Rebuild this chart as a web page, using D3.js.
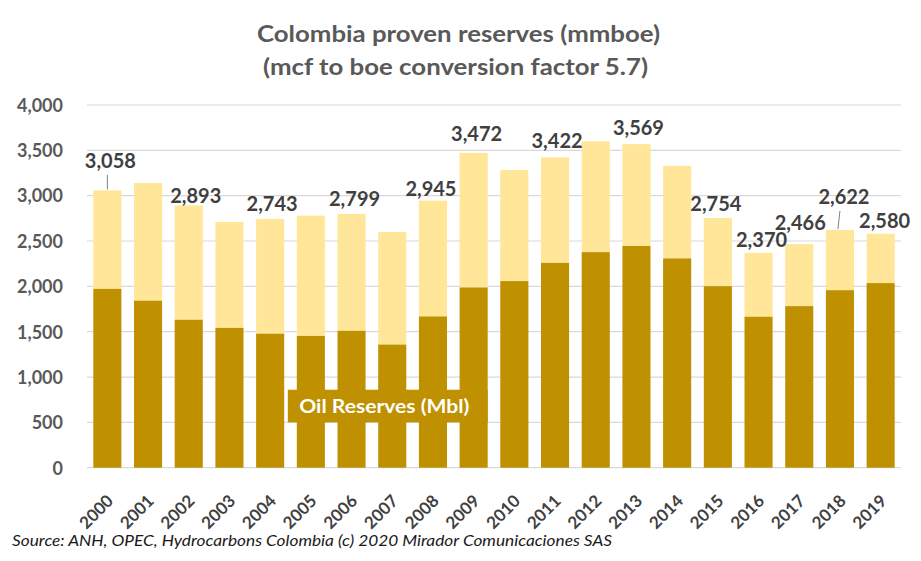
<!DOCTYPE html>
<html>
<head>
<meta charset="utf-8">
<script src="https://cdn.jsdelivr.net/npm/d3@7"></script>
<style>
  html, body { margin: 0; padding: 0; background: #ffffff; }
  svg { display: block; }
</style>
</head>
<body>
<svg id="chart" width="921" height="561"></svg>
<script>
// ---------- data ----------
const years = ["2000","2001","2002","2003","2004","2005","2006","2007","2008","2009",
               "2010","2011","2012","2013","2014","2015","2016","2017","2018","2019"];
const oilReserves = [1972,1842,1632,1542,1478,1453,1510,1358,1668,1988,
                     2058,2259,2377,2445,2308,2002,1665,1782,1958,2036];
const totalReserves = [3058,3140,2893,2710,2743,2780,2799,2600,2945,3472,
                       3283,3422,3600,3569,3330,2754,2370,2466,2622,2580];
const labeledYears = ["2000","2002","2004","2006","2008","2009","2011","2013",
                      "2015","2016","2017","2018","2019"];
const yTicks = [0,500,1000,1500,2000,2500,3000,3500,4000];
const titleLines = ["Colombia proven reserves (mmboe)", "(mcf to boe conversion factor 5.7)"];
const oilLabel = "Oil Reserves (Mbl)";
const sourceText = "Source:  ANH, OPEC, Hydrocarbons Colombia (c) 2020 Mirador Comunicaciones SAS";

// ---------- layout ----------
const svg = d3.select("#chart");
const m = { left: 87, right: 901, top: 105, bottom: 467.7 };
const cOil = "#BF9000", cGas = "#FFE699";
const font = "Lato, 'Open Sans', sans-serif";

// label offsets [dx, dy to label centre] relative to bar centre/top
const labelOffset = {
  "2000": [3, -29.5], "2002": [7, -10], "2004": [2, -15], "2006": [3, -15],
  "2008": [-2, -12], "2009": [3, -19], "2011": [2, -17], "2013": [2, -16],
  "2015": [-2, -14], "2016": [3, -13], "2017": [1, -21], "2018": [4, -33],
  "2019": [4, -13]
};

const x = d3.scaleBand().domain(years).range([m.left, m.right]).paddingInner(0.31).paddingOuter(0.155);
const y = d3.scaleLinear().domain([0, 4000]).range([m.bottom, m.top]);

// gridlines
svg.append("g").selectAll("line").data(yTicks).join("line")
  .attr("x1", m.left).attr("x2", m.right)
  .attr("y1", d => y(d)).attr("y2", d => y(d))
  .attr("stroke", "#D9D9D9").attr("stroke-width", 1.2);

// y axis labels
const yAxis = d3.axisLeft(y).tickValues(yTicks).tickFormat(d3.format(",")).tickSize(0).tickPadding(0);
const yg = svg.append("g").attr("transform", "translate(63,0)").call(yAxis);
yg.select(".domain").remove();
yg.selectAll("text").attr("font-family", font).attr("font-weight", "bold")
  .attr("font-size", 18).attr("fill", "#595959").attr("dy", "0.35em");

const rows = years.map((yr, i) => ({ year: yr, oil: oilReserves[i], total: totalReserves[i] }));

// gas (total) bars
svg.append("g").selectAll("rect").data(rows).join("rect")
  .attr("x", d => x(d.year)).attr("width", x.bandwidth())
  .attr("y", d => y(d.total)).attr("height", d => y(d.oil) - y(d.total))
  .attr("fill", cGas);
// oil bars
svg.append("g").selectAll("rect").data(rows).join("rect")
  .attr("x", d => x(d.year)).attr("width", x.bandwidth())
  .attr("y", d => y(d.oil)).attr("height", d => y(0) - y(d.oil))
  .attr("fill", cOil);

// oil label box
const boxG = svg.append("g");
const lx = x("2007") + x.bandwidth() / 2 - 8;
boxG.append("rect").attr("x", x("2005") - 9).attr("width", x("2009") + x.bandwidth() - x("2005") + 9)
  .attr("y", y(860)).attr("height", y(500) - y(860)).attr("fill", cOil);
boxG.append("text").attr("x", lx).attr("y", y(500) - 9)
  .attr("text-anchor", "middle").attr("font-family", font).attr("font-weight", "bold")
  .attr("font-size", 19).attr("fill", "#ffffff")
  .attr("textLength", 170).attr("lengthAdjust", "spacingAndGlyphs")
  .text(oilLabel);

// total labels
const labeled = rows.filter(d => labeledYears.includes(d.year));
const lg = svg.append("g");
lg.selectAll("text").data(labeled).join("text")
  .attr("x", d => x(d.year) + x.bandwidth() / 2 + labelOffset[d.year][0])
  .attr("y", d => y(d.total) + labelOffset[d.year][1])
  .attr("dy", "0.36em")
  .attr("text-anchor", "middle").attr("font-family", font).attr("font-weight", "bold")
  .attr("font-size", 20).attr("fill", "#404040")
  .text(d => d3.format(",")(d.total));

// leader lines
const leaders = rows.filter(d => d.year === "2000" || d.year === "2018");
lg.selectAll("line").data(leaders).join("line")
  .attr("x1", d => x(d.year) + x.bandwidth() / 2)
  .attr("x2", d => x(d.year) + x.bandwidth() / 2 + (d.year === "2018" ? -2 : 0))
  .attr("y1", d => y(d.total) + labelOffset[d.year][1] + 14)
  .attr("y2", d => y(d.total) - 1)
  .attr("stroke", "#808080").attr("stroke-width", 1);

// x axis labels
const xg = svg.append("g");
xg.selectAll("text").data(years).join("text")
  .attr("transform", d => `translate(${x(d) + x.bandwidth() / 2 + 7},502) rotate(-45)`)
  .attr("text-anchor", "end").attr("font-family", font).attr("font-weight", "bold")
  .attr("font-size", 17).attr("fill", "#404040")
  .text(d => d);

// title
svg.append("text").attr("x", 458.5).attr("y", 41.5).attr("text-anchor", "middle")
  .attr("font-family", font).attr("font-weight", "bold").attr("font-size", 22).attr("fill", "#595959")
  .attr("textLength", 403).attr("lengthAdjust", "spacingAndGlyphs").text(titleLines[0]);
svg.append("text").attr("x", 455.5).attr("y", 75).attr("text-anchor", "middle")
  .attr("font-family", font).attr("font-weight", "bold").attr("font-size", 22).attr("fill", "#595959")
  .attr("textLength", 385).attr("lengthAdjust", "spacingAndGlyphs").text(titleLines[1]);

// source
svg.append("text").attr("x", 12).attr("y", 546)
  .attr("font-family", font).attr("font-style", "italic").attr("font-size", 16).attr("fill", "#1a1a1a")
  .attr("textLength", 600).attr("lengthAdjust", "spacingAndGlyphs").text(sourceText);
</script>
</body>
</html>
